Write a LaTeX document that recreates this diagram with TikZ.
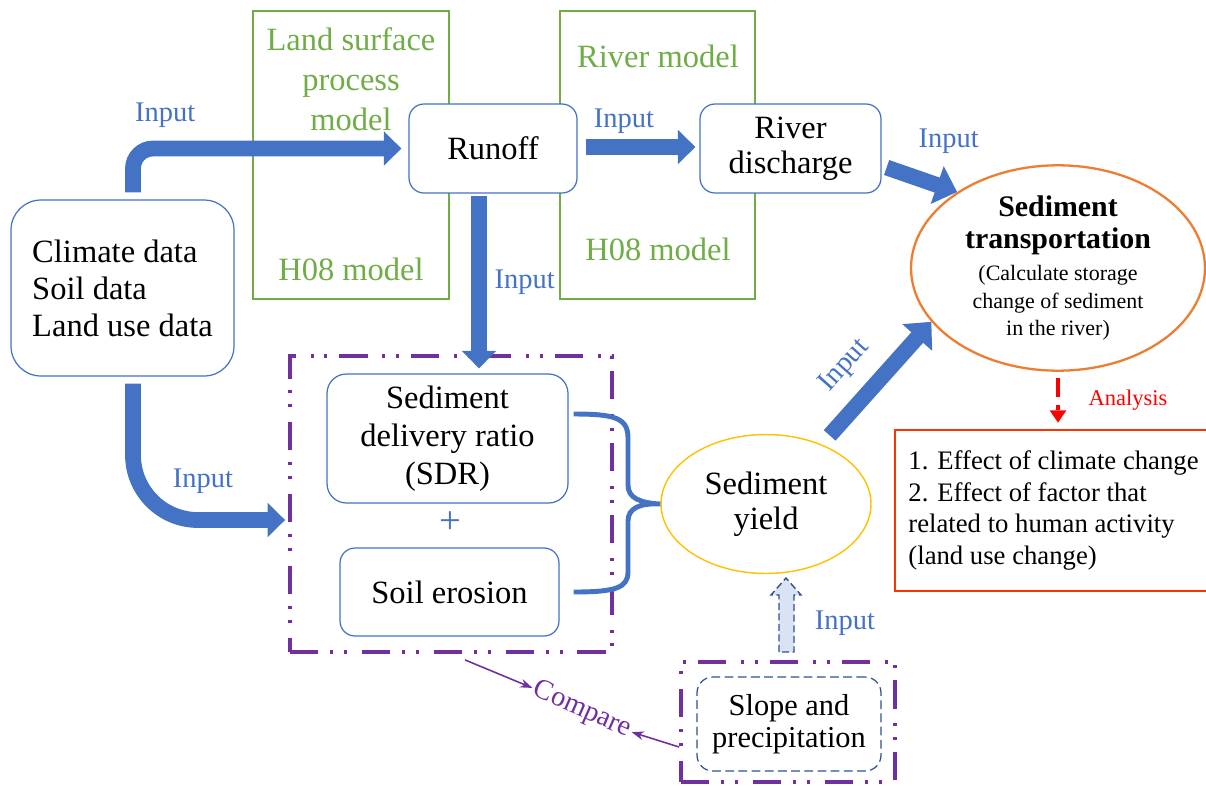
\documentclass[tikz,border=0pt]{standalone}
\usepackage{fontspec}
\setmainfont{Liberation Serif}
\usepackage{xcolor}
\usetikzlibrary{arrows.meta,positioning,calc,shapes.geometric}

\definecolor{inblue}{HTML}{4472C4}
\definecolor{mdgreen}{HTML}{70AD47}
\definecolor{trorange}{HTML}{ED7D31}
\definecolor{ydgold}{HTML}{FFC000}
\definecolor{grpurple}{HTML}{7030A0}
\definecolor{anred}{HTML}{FF0000}
\definecolor{boxred}{HTML}{FF3300}
\definecolor{slnavy}{HTML}{2F528F}
\definecolor{slfill}{HTML}{DAE3F3}

\newcommand{\mainfs}{\fontsize{18.5pt}{21pt}\selectfont}
\newcommand{\lblfs}{\fontsize{16.2pt}{19pt}\selectfont}

\tikzset{
  box/.style={draw=inblue, line width=0.7pt, fill=white, rounded corners=8.5pt, align=center, inner sep=2pt, font=\mainfs},
  frame/.style={draw=mdgreen, line width=0.8pt},
  mdl/.style={text=mdgreen, align=center, font=\fontsize{18.5pt}{22.7pt}\selectfont},
  oval/.style={ellipse, fill=white, align=center, inner sep=0pt},
  grp/.style={draw=grpurple, line width=2.2pt, dash pattern=on 16pt off 6.8pt on 1.7pt off 6.2pt on 1.7pt off 8.5pt},
  lbl/.style={text=inblue, font=\lblfs, inner sep=1pt},
  bigarr/.style={draw=inblue, line width=9pt, -{Triangle[length=10pt, width=19pt]}},
  anarr/.style={draw=anred, line width=2pt, dash pattern=on 11pt off 4.5pt on 3pt off 4.5pt, -{Triangle[length=7pt, width=9pt]}},
  thinarr/.style={draw=grpurple, line width=0.9pt, -{Stealth[length=7pt, width=5pt]}},
}

\begin{document}
\begin{tikzpicture}[x=0.02cm, y=-0.02cm]
\useasboundingbox (0,0) rectangle (1206,785);
% model frames
\node[frame, minimum width=3.92cm, minimum height=5.76cm] (lsp) at (351,155) {};
\node[frame, minimum width=3.9cm, minimum height=5.76cm] (rvm) at (657.5,155) {};
\node[mdl] (lsptop) at (351,79) {Land surface\\process\\model};
\node[mdl] (lspbot) at (351,269) {H08 model};
\node[mdl] (rvmtop) at (658,56) {River model};
\node[mdl] (rvmbot) at (658,249) {H08 model};
% boxes
\node[box, rounded corners=17pt, minimum width=4.46cm, minimum height=3.52cm, align=left] (climate) at (122.5,288) {Climate data\\Soil data\\Land use data};
\node[box, minimum width=3.36cm, minimum height=1.78cm] (runoff) at (493,148.5) {Runoff};
\node[box, minimum width=3.62cm, minimum height=1.78cm, font=\fontsize{18.5pt}{20pt}\selectfont] (river) at (790.5,148.5) {River\\discharge};
\node[oval, draw=trorange, line width=1.3pt, minimum width=5.88cm, minimum height=3.56cm, font=\fontsize{12.5pt}{15.9pt}\selectfont] (sedtrans) at (1058,268)
  {{\fontsize{17pt}{18pt}\selectfont\bfseries Sediment}\\[2.3pt]{\fontsize{17pt}{18pt}\selectfont\bfseries transportation}\\[2.3pt]
   (Calculate storage\\change of sediment\\in the river)};
\node[grp, minimum width=6.44cm, minimum height=5.92cm] (grp) at (451,504) {};
\node[box, rounded corners=11pt, minimum width=4.82cm, minimum height=2.58cm, font=\fontsize{18.5pt}{21.5pt}\selectfont] (sdr) at (447.5,438.5) {Sediment\\delivery ratio\\(SDR)};
\node[text=inblue, font=\fontsize{22pt}{24pt}\selectfont] (plus) at (450,523) {+};
\node[box, minimum width=4.38cm, minimum height=1.76cm] (soil) at (449.5,592) {Soil erosion};
\node[oval, draw=ydgold, line width=0.8pt, minimum width=4.2cm, minimum height=2.78cm, font=\fontsize{18.5pt}{20pt}\selectfont] (yield) at (766,504) {Sediment\\yield};
\node[draw=boxred, line width=1.5pt, minimum width=6.34cm, minimum height=3.22cm, align=left, font=\fontsize{15.2pt}{18.1pt}\selectfont] (report) at (1053.5,510.5)
  {1. Effect of climate change\\2. Effect of factor that\\related to human activity\\(land use change)};
\node[grp, minimum width=4.28cm, minimum height=2.4cm] (slopegrp) at (788,722) {};
\node[box, draw=slnavy, dash pattern=on 5pt off 2.5pt, rounded corners=9pt, minimum width=3.68cm, minimum height=1.88cm, font=\fontsize{17.3pt}{18.2pt}\selectfont] (slope) at (789,724) {Slope and\\precipitation};
\node[text=grpurple, rotate=-24, inner sep=1pt, font=\lblfs] (cmp) at (582,710) {Compare};
% connectors
\draw[bigarr, rounded corners=0.4cm] ([xshift=0.21cm, yshift=0.14cm]climate.north) |- node[lbl, pos=0.56, above=0.22cm] (in1) {Input} ([xshift=-0.14cm]runoff.west);
\draw[bigarr, rounded corners=1.3cm] ([xshift=0.21cm, yshift=-0.14cm]climate.south) |- node[lbl, pos=0.73, above=0.34cm] (in2) {Input} ([xshift=-0.06cm, yshift=-0.32cm]grp.west);
\draw[bigarr] ([xshift=-0.28cm, yshift=-0.04cm]runoff.south) -- node[lbl, right=0.12cm] (in3) {Input} ([xshift=-0.28cm, yshift=0.1cm]runoff.south |- sdr.north);
\draw[bigarr] ([xshift=0.16cm, yshift=0.03cm]runoff.east) -- node[lbl, pos=0.35, above=0.08cm] (in4) {Input} ([xshift=-0.08cm, yshift=0.03cm]river.west);
\draw[bigarr, -{Triangle[length=12pt, width=22pt]}] ([xshift=0.1cm, yshift=-0.38cm]river.east) -- node[lbl, pos=0.88, above=0.52cm] (in5) {Input} (sedtrans.143);
\draw[bigarr, -{Triangle[length=12pt, width=22pt]}, shorten <=0.24cm] (yield.47) -- node[lbl, sloped, pos=0.45, above=0.26cm] (in6) {Input} (sedtrans.203);
\draw[anarr] ([yshift=-0.12cm]sedtrans.south) -- node[right=0.46cm, text=anred, font=\fontsize{12.8pt}{15pt}\selectfont] (an) {Analysis} ([yshift=0.12cm]sedtrans.south |- report.north);
\draw[inblue, line width=2.8pt] ([xshift=0.1cm, yshift=0.49cm]sdr.east) .. controls (615,414) and (628,418) .. (628,438) -- (628,485)
  .. controls (628,498) and (640,503) .. (yield.west) .. controls (640,503) and (628,508) .. (628,521) -- (628,572)
  .. controls (628,588) and (615,592) .. ([xshift=0.28cm]soil.east);
\draw[draw=slnavy, fill=slfill, line width=0.8pt, dash pattern=on 4pt off 2pt] (779,652) -- (779,595) -- (771,595) -- (786,578) -- (801,595) -- (794,595) -- (794,652) -- cycle;
\node[lbl] (in7) at (845,623) {Input};
\draw[thinarr] ([xshift=0.28cm, yshift=-0.12cm]grp.south) -- (cmp.west);
\draw[thinarr] ([yshift=-0.5cm]slopegrp.west) -- (cmp.east);
\end{tikzpicture}
\end{document}
